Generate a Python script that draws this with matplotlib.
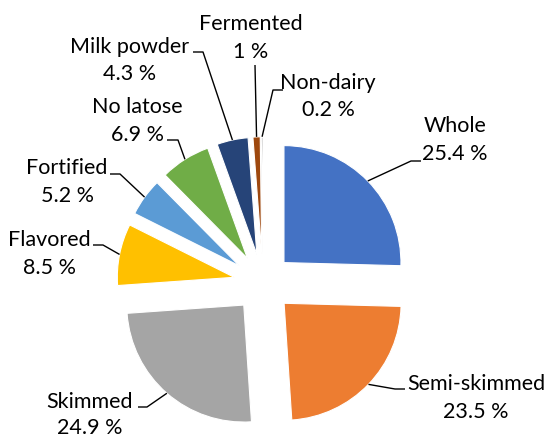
import matplotlib.pyplot as plt
import numpy as np

# Datos
categories = ['Whole', 'Semi-skimmed', 'Skimmed', 'Flavored', 'Fortified',
              'No latose', 'Milk powder', 'Fermented', 'Non-dairy']
shares = [25.4, 23.5, 24.9, 8.5, 5.2, 6.9, 4.3, 1.0, 0.2]
share_labels = ['25.4 %', '23.5 %', '24.9 %', '8.5 %', '5.2 %',
                '6.9 %', '4.3 %', '1 %', '0.2 %']
colors = ['#4472C4', '#ED7D31', '#A5A5A5', '#FFC000', '#5B9BD5',
          '#70AD47', '#264478', '#9E480E', '#636363']

# Geometría (píxeles de la figura)
W, H = 546, 436
CX, CY, R = 263, 283, 117
EXPLODE = 0.25

# Posición de etiquetas: centro de texto (x, y línea 1, y línea 2) y codo del conector
label_layout = [
    (455, 125, 153, (411, 161), (421, 161)),
    (476, 383, 411, (395, 389), (405, 389)),
    (90, 401, 427, (147, 407), (138, 407)),
    (49, 239, 267, (103, 245), (93, 245)),
    (67, 167, 195, (120, 174), (110, 174)),
    (137, 106, 134, (178, 140), (167, 140)),
    (130, 46, 73, (203, 52), (193, 52)),
    (251, 23, 52, (255, 65), (255, 65)),
    (328, 82, 110, (273, 90), (283, 90)),
]


def px(x, y):
    """Conversión de píxeles a coordenadas de datos."""
    return (x - CX) / R, (CY - y) / R


fig = plt.figure(figsize=(W / 100, H / 100), dpi=100)
ax = fig.add_axes([0, 0, 1, 1])

wedges, _ = ax.pie(shares, colors=colors, startangle=90, counterclock=False,
                   explode=[EXPLODE] * len(shares), radius=1,
                   wedgeprops=dict(edgecolor='white', linewidth=0.8))

x0, y0 = px(0, H)
x1, y1 = px(W, 0)
ax.set_xlim(x0, x1)
ax.set_ylim(y0, y1)
ax.set_aspect('equal')
ax.axis('off')

font = dict(family=['Lato', 'DejaVu Sans'], fontsize=15.5, color='#000000')

for wedge, name, pct, lay in zip(wedges, categories, share_labels, label_layout):
    tx, ty1, ty2, elbow, end = lay
    # Punto de partida sobre el arco
    mid = np.deg2rad((wedge.theta1 + wedge.theta2) / 2)
    cx, cy = wedge.center
    start = (cx + np.cos(mid), cy + np.sin(mid))
    e = px(*elbow)
    h = px(*end)
    ax.plot([start[0], e[0], h[0]], [start[1], e[1], h[1]], color='black', lw=1.0,
            solid_capstyle='butt')
    ax.text(*px(tx, ty1 + 7), name, ha='center', va='baseline', **font)
    ax.text(*px(tx, ty2 + 6.5), pct, ha='center', va='baseline', **font)

fig.savefig('out.png', dpi=100)
plt.close()
